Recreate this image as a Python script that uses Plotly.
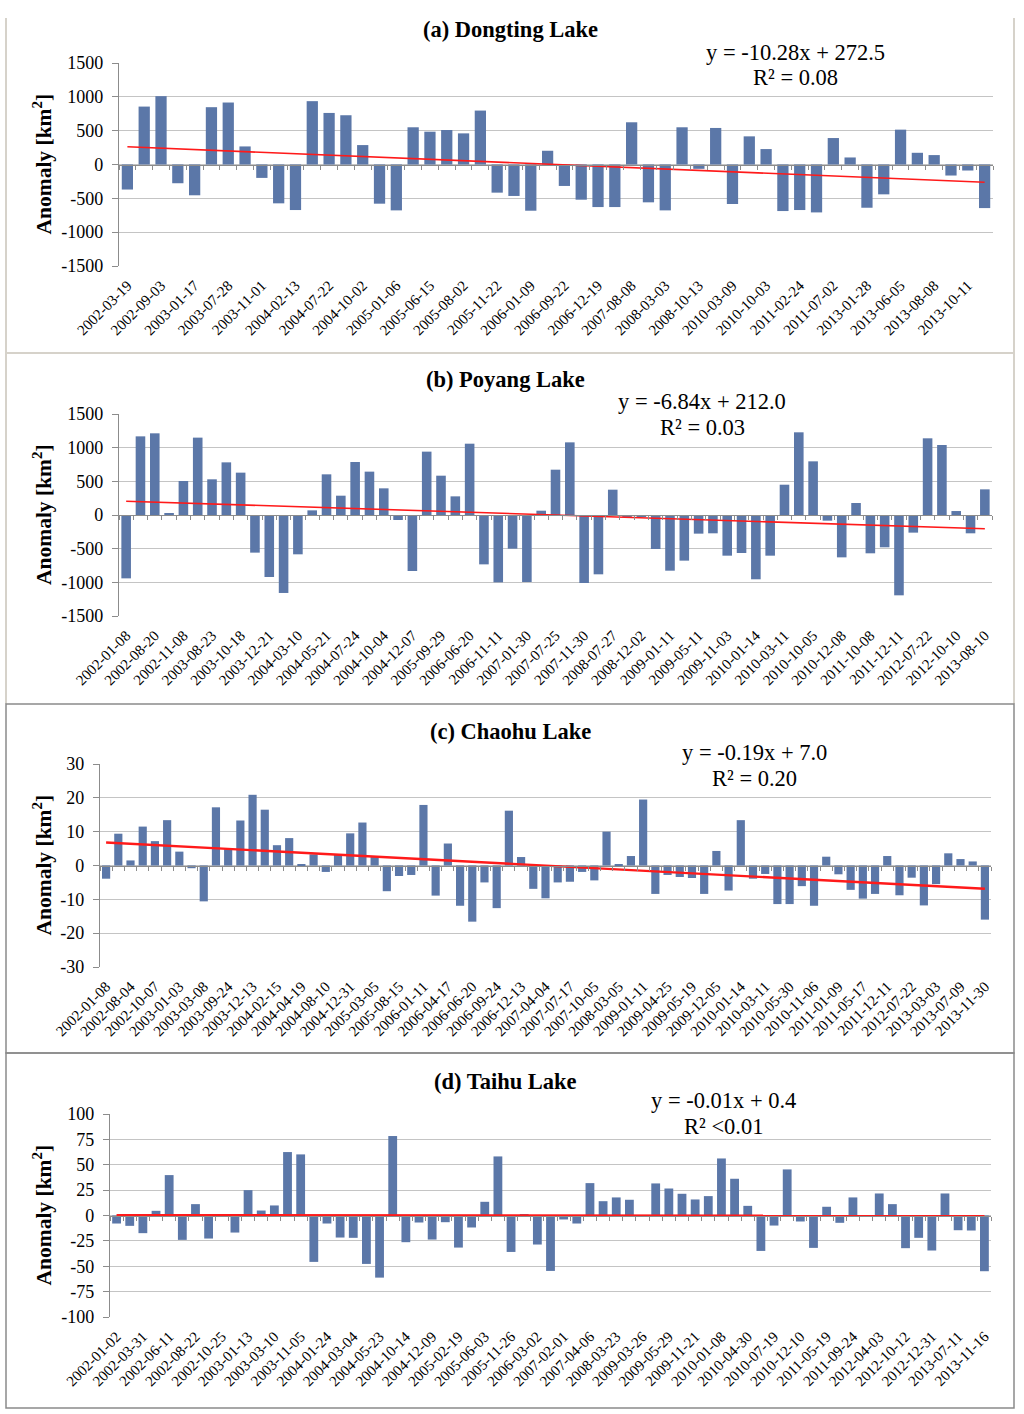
import plotly.graph_objects as go

W, H = 1024, 1414

# ---------------- data ----------------
dongting_labels = ["2002-03-19", "2002-09-03", "2003-01-17", "2003-07-28", "2003-11-01", "2004-02-13",
                   "2004-07-22", "2004-10-02", "2005-01-06", "2005-06-15", "2005-08-02", "2005-11-22",
                   "2006-01-09", "2006-09-22", "2006-12-19", "2007-08-08", "2008-03-03", "2008-10-13",
                   "2010-03-09", "2010-10-03", "2011-02-24", "2011-07-02", "2013-01-28", "2013-06-05",
                   "2013-08-08", "2013-10-11"]
dongting_values = [-370, 856, 1010, -277, -455, 847, 916, 267, -198, -574,
                   -673, 936, 762, 728, 287, -579, -678, 550, 485, 510,
                   460, 797, -416, -465, -683, 203, -317, -520, -629, -629,
                   624, -559, -678, 550, -64, 540, -584, 416, 228, -688,
                   -673, -708, 391, 104, -639, -441, 515, 173, 139, -163,
                   -89, -644]

poyang_labels = ["2002-01-08", "2002-08-20", "2002-11-08", "2003-08-23", "2003-10-18", "2003-12-21",
                 "2004-03-10", "2004-05-21", "2004-07-24", "2004-10-04", "2004-12-07", "2005-09-29",
                 "2006-06-20", "2006-11-11", "2007-01-30", "2007-07-25", "2007-11-30", "2008-07-27",
                 "2008-12-02", "2009-01-11", "2009-05-11", "2009-11-03", "2010-01-14", "2010-03-11",
                 "2010-10-05", "2010-12-08", "2011-10-08", "2011-12-11", "2012-07-22", "2012-10-10",
                 "2013-08-10"]
poyang_values = [-941, 1168, 1213, 15, 505, 1149, 530, 782, 629, -559,
                 -921, -1158, -584, 69, 604, 287, 787, 644, 396, -74,
                 -832, 941, 584, 277, 1059, -733, -1000, -500, -995, 64,
                 673, 1079, -1010, -881, 376, -30, -15, -505, -827, -678,
                 -277, -272, -604, -564, -955, -604, 450, 1228, 797, -84,
                 -629, 178, -569, -480, -1193, -262, 1139, 1040, 59, -272,
                 381]

chaohu_labels = ["2002-01-08", "2002-08-04", "2002-10-07", "2003-01-03", "2003-03-08", "2003-09-24",
                 "2003-12-13", "2004-02-15", "2004-04-19", "2004-08-10", "2004-12-31", "2005-03-05",
                 "2005-08-15", "2006-01-11", "2006-04-17", "2006-06-20", "2006-09-24", "2006-12-13",
                 "2007-04-04", "2007-07-17", "2007-10-05", "2008-03-05", "2009-01-11", "2009-04-25",
                 "2009-05-19", "2009-12-05", "2010-01-14", "2010-03-11", "2010-05-30", "2010-11-06",
                 "2011-01-09", "2011-05-17", "2011-12-11", "2012-07-22", "2013-03-03", "2013-07-09",
                 "2013-11-30"]
chaohu_values = [-3.9, 9.4, 1.5, 11.5, 7.2, 13.4, 4.1, -0.8, -10.6, 17.2,
                 4.8, 13.3, 20.9, 16.5, 6.0, 8.1, 0.3, 3.3, -1.9, 3.3,
                 9.5, 12.7, 2.6, -7.6, -3.1, -2.8, 17.9, -8.9, 6.5, -11.9,
                 -16.6, -5.0, -12.6, 16.2, 2.5, -6.9, -9.7, -5.0, -4.8, -1.9,
                 -4.4, 10.0, 0.2, 2.8, 19.5, -8.4, -2.8, -3.4, -3.7, -8.4,
                 4.3, -7.4, 13.4, -3.9, -2.5, -11.4, -11.4, -6.1, -11.9, 2.6,
                 -2.6, -7.2, -9.8, -8.4, 2.8, -8.8, -3.6, -11.8, -5.5, 3.6,
                 1.9, 1.2, -16.0]

taihu_labels = ["2002-01-02", "2002-03-31", "2002-06-11", "2002-08-22", "2002-10-25", "2003-01-13",
                "2003-03-10", "2003-11-05", "2004-01-24", "2004-03-04", "2004-05-23", "2004-10-14",
                "2004-12-09", "2005-02-19", "2005-06-03", "2005-11-26", "2006-03-02", "2007-02-01",
                "2007-04-06", "2008-03-23", "2009-03-26", "2009-05-29", "2009-11-21", "2010-01-08",
                "2010-04-30", "2010-07-19", "2010-12-10", "2011-05-19", "2011-09-24", "2012-04-03",
                "2012-10-12", "2012-12-31", "2013-07-11", "2013-11-16"]
taihu_values = [-7.9, -10.2, -17.4, 4.6, 39.8, -24.0, 11.2, -22.7, 0.0, -16.8,
                25.0, 4.9, 9.9, 62.5, 60.2, -45.7, -7.9, -21.7, -22.0, -47.7,
                -61.2, 78.3, -26.3, -6.9, -23.7, -6.6, -31.6, -11.8, 13.5, 58.2,
                -35.9, 0.5, -28.6, -54.6, -3.9, -7.9, 31.9, 14.1, 17.8, 15.5,
                0.0, 31.6, 26.6, 21.4, 15.8, 19.1, 56.2, 36.2, 9.5, -34.9,
                -9.9, 45.4, -5.9, -31.9, 8.6, -7.2, 17.8, 0.0, 21.7, 11.2,
                -32.2, -22.0, -34.5, 21.7, -14.5, -14.8, -54.9]

titles = ["(a) Dongting Lake", "(b) Poyang Lake", "(c) Chaohu Lake", "(d) Taihu Lake"]
slopes = [-10.28, -6.84, -0.19, -0.01]
intercepts = [272.5, 212.0, 7.0, 0.4]
equations = ["y = -10.28x + 272.5", "y = -6.84x + 212.0", "y = -0.19x + 7.0", "y = -0.01x + 0.4"]
r2_texts = ["R² = 0.08", "R² = 0.03", "R² = 0.20", "R² <0.01"]
y_ticks_a = [-1500, -1000, -500, 0, 500, 1000, 1500]
y_ticks_b = [-1500, -1000, -500, 0, 500, 1000, 1500]
y_ticks_c = [-30, -20, -10, 0, 10, 20, 30]
y_ticks_d = [-100, -75, -50, -25, 0, 25, 50, 75, 100]

all_labels = [dongting_labels, poyang_labels, chaohu_labels, taihu_labels]
all_values = [dongting_values, poyang_values, chaohu_values, taihu_values]
all_yticks = [y_ticks_a, y_ticks_b, y_ticks_c, y_ticks_d]

# ---------------- layout (pixel geometry) ----------------
plot_boxes = [  # left, right, top, bottom in px
    (119, 993, 63, 266),
    (119, 992, 414, 616),
    (100, 991, 764, 967),
    (110, 991, 1114, 1317),
]
title_pos = [(510, 30), (505, 380), (510, 731), (505, 1081)]
eq_pos = [(795, 52), (702, 402), (754, 752), (723, 1100)]
r2_pos = [(795, 77), (702, 427), (754, 778), (723, 1126)]


def px(xp):
    return xp / W


def py(yp):
    return 1 - yp / H


SERIF = "Liberation Serif, Times New Roman, serif"
BAR_COLOR = "#5b77a8"
GRID = "#c4c4c4"
AXIS = "#8c8c8c"

fig = go.Figure()
layout = dict(
    width=W, height=H,
    margin=dict(l=0, r=0, t=0, b=0, pad=0, autoexpand=False),
    paper_bgcolor="white", plot_bgcolor="white",
    showlegend=False,
    font=dict(family=SERIF, color="black"),
    bargap=0.33,
)
annotations = []
shapes = []

for i in range(4):
    n = len(all_values[i])
    xs = list(range(1, n + 1))
    k = i + 1
    sfx = "" if k == 1 else str(k)
    ov = str(k + 4)
    l, r, t, b = plot_boxes[i]
    yt = all_yticks[i]
    lim = max(yt)

    fig.add_trace(go.Bar(x=xs, y=all_values[i], marker=dict(color=BAR_COLOR, line=dict(width=0)),
                         xaxis="x" + sfx, yaxis="y" + sfx, hoverinfo="x+y"))
    # trend line from the regression equation
    tx = [1, n]
    ty = [slopes[i] * v + intercepts[i] for v in tx]
    fig.add_trace(go.Scatter(x=tx, y=ty, mode="lines",
                             line=dict(color="#ff1a1a", width=1.6 if i < 2 else 2.4),
                             xaxis="x" + ov, yaxis="y" + sfx, hoverinfo="skip"))

    tickvals = xs[::2]
    layout["xaxis" + sfx] = dict(
        domain=[px(l), px(r)], anchor="y" + sfx, range=[0.5, n + 0.5], automargin=False,
        tickmode="array", tickvals=tickvals, ticktext=all_labels[i][:len(tickvals)],
        tickangle=-45, tickfont=dict(family=SERIF, size=15, color="black"),
        ticklabelstandoff=7,
        showline=False, showgrid=False, zeroline=False, ticks="",
    )
    dom_y = [py(b), py(t)]
    zero_pos = dom_y[0] + (0 + lim) / (2 * lim) * (dom_y[1] - dom_y[0])
    layout["xaxis" + ov] = dict(
        overlaying="x" + sfx, anchor="free", position=zero_pos, range=[0.5, n + 0.5], automargin=False,
        tickmode="array", tickvals=[v - 0.5 for v in xs] + [n + 0.5],
        ticks="outside", ticklen=4, tickcolor=AXIS, tickwidth=1,
        showticklabels=False, showline=True, linecolor=AXIS, linewidth=1.2,
        showgrid=False, zeroline=False,
    )
    layout["yaxis" + sfx] = dict(
        domain=dom_y, anchor="x" + sfx, range=[-lim, lim], automargin=False,
        tickmode="array", tickvals=yt, ticktext=[str(v) for v in yt],
        ticklabelstandoff=5,
        showline=True, linecolor=AXIS, linewidth=1.2, ticks="outside", ticklen=6,
        tickcolor=AXIS, showgrid=True, gridcolor=GRID, gridwidth=1.3, zeroline=False,
        tickfont=dict(family=SERIF, size=18, color="black"),
    )

    annotations.append(dict(text="<b>" + titles[i] + "</b>", x=px(title_pos[i][0]), y=py(title_pos[i][1]),
                            xref="paper", yref="paper", showarrow=False, xanchor="center", yanchor="middle",
                            font=dict(family=SERIF, size=22.5, color="black")))
    annotations.append(dict(text=equations[i], x=px(eq_pos[i][0]), y=py(eq_pos[i][1]),
                            xref="paper", yref="paper", showarrow=False, xanchor="center", yanchor="middle",
                            font=dict(family=SERIF, size=22.5, color="black")))
    annotations.append(dict(text=r2_texts[i], x=px(r2_pos[i][0]), y=py(r2_pos[i][1]),
                            xref="paper", yref="paper", showarrow=False, xanchor="center", yanchor="middle",
                            font=dict(family=SERIF, size=22.5, color="black")))
    annotations.append(dict(text="<b>Anomaly [km<sup>2</sup>]</b>", x=px(42), y=py((t + b) / 2),
                            xref="paper", yref="paper", showarrow=False, textangle=-90,
                            xanchor="center", yanchor="middle",
                            font=dict(family=SERIF, size=21.5, color="black")))

# panel frames
light = "#d6d2ca"
dark = "#8a8a8a"
shapes.append(dict(type="line", xref="paper", yref="paper", x0=px(6), x1=px(6), y0=py(18), y1=py(704),
                   line=dict(color=light, width=2)))
shapes.append(dict(type="line", xref="paper", yref="paper", x0=px(1014), x1=px(1014), y0=py(18), y1=py(704),
                   line=dict(color=light, width=2)))
shapes.append(dict(type="line", xref="paper", yref="paper", x0=px(6), x1=px(1014), y0=py(353), y1=py(353),
                   line=dict(color=light, width=2)))
shapes.append(dict(type="rect", xref="paper", yref="paper", x0=px(6), x1=px(1014), y0=py(1053), y1=py(704),
                   line=dict(color=dark, width=1.5)))
shapes.append(dict(type="rect", xref="paper", yref="paper", x0=px(6), x1=px(1014), y0=py(1408), y1=py(1053),
                   line=dict(color=dark, width=1.5)))

layout["annotations"] = annotations
layout["shapes"] = shapes
fig.update_layout(**layout)

fig.write_html("out.html", config={"displayModeBar": False},
               post_script="document.body.style.margin='0';")
